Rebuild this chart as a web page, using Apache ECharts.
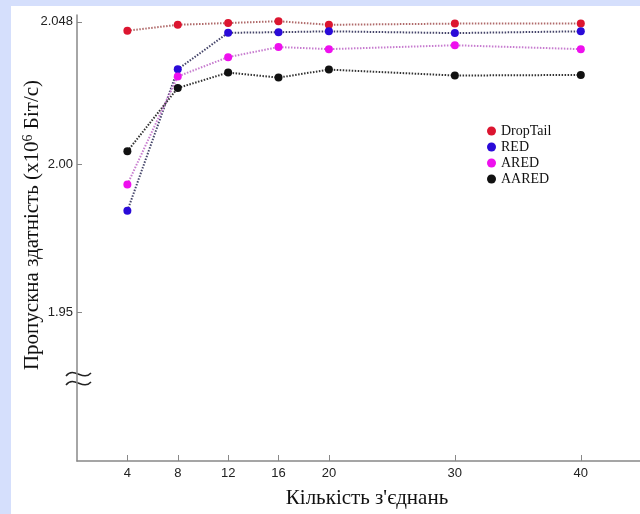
<!DOCTYPE html>
<html>
<head>
<meta charset="utf-8">
<script src="https://cdn.jsdelivr.net/npm/echarts@6/dist/echarts.min.js"></script>
<style>
  html, body { margin: 0; padding: 0; }
  #wrap { position: relative; width: 640px; height: 514px; background: #d5dffc; overflow: hidden; }
  #panel { position: absolute; left: 11px; top: 6px; right: 0; bottom: 0; background: #fff; }
  #container { position: absolute; left: 0; top: 0; width: 640px; height: 514px; }
</style>
</head>
<body>
<div id="wrap">
  <div id="panel"></div>
  <div id="container"></div>
</div>
<script>
// кількість з'єднань
var connections = [4, 8, 12, 16, 20, 30, 40];
// пропускна здатність, x10^6 біт/с
var dropTail = [2.0450, 2.0470, 2.0476, 2.0482, 2.0470, 2.0474, 2.0474];
var red = [1.9843, 2.0320, 2.0443, 2.0445, 2.0448, 2.0442, 2.0448];
var ared = [1.9932, 2.0296, 2.0361, 2.0395, 2.0388, 2.0401, 2.0388];
var aared = [2.0044, 2.0257, 2.0309, 2.0292, 2.0319, 2.0299, 2.0301];

var seriesNames = ['DropTail', 'RED', 'ARED', 'AARED'];
var yTickValues = [1.95, 2.00, 2.048];
var yTickLabels = ['1.95', '2.00', '2.048'];

var dotColors = ['#dc1530', '#2a0ad8', '#ee10ee', '#111111'];
var lineColors = ['#b06a6a', '#45456a', '#c77ccf', '#333333'];

function pairs(ys) {
    var res = [];
    for (var i = 0; i < connections.length; i++) {
        res.push([connections[i], ys[i]]);
    }
    return res;
}

var allData = [dropTail, red, ared, aared];
var series = [];
for (var k = 0; k < allData.length; k++) {
    series.push({
        name: seriesNames[k],
        type: 'line',
        data: pairs(allData[k]),
        symbol: 'circle',
        symbolSize: 8,
        itemStyle: { color: dotColors[k] },
        lineStyle: { color: lineColors[k], width: 2, type: [1.5, 1.5] },
        emphasis: { disabled: true },
        z: 2 + k
    });
}

var serif = 'Liberation Serif';
var sans = 'Liberation Sans';

var myChart = echarts.init(document.getElementById('container'));
var option = {
    backgroundColor: 'transparent',
    animation: false,
    grid: { left: 77, top: 15, right: 0, bottom: 53, containLabel: false },
    legend: {
        data: seriesNames,
        orient: 'vertical',
        left: 482,
        top: 119,
        icon: 'circle',
        itemWidth: 9,
        itemHeight: 9,
        itemGap: 2,
        textStyle: { fontFamily: serif, fontSize: 14, color: '#111' }
    },
    xAxis: {
        type: 'value',
        min: 0,
        max: 44.7,
        axisLine: { lineStyle: { color: '#888', width: 1.5 } },
        axisTick: { inside: true, length: 6, customValues: connections, lineStyle: { color: '#888' } },
        axisLabel: {
            customValues: connections,
            margin: 6,
            fontFamily: sans,
            fontSize: 13,
            color: '#222'
        },
        splitLine: { show: false }
    },
    yAxis: {
        type: 'value',
        min: 1.90,
        max: 2.0503,
        axisLine: { show: true, lineStyle: { color: '#888', width: 1.5 } },
        axisTick: { show: true, inside: true, length: 5, customValues: yTickValues, lineStyle: { color: '#888' } },
        axisLabel: {
            customValues: yTickValues,
            margin: 4,
            fontFamily: sans,
            fontSize: 13,
            color: '#222',
            formatter: function (value) {
                for (var i = 0; i < yTickValues.length; i++) {
                    if (Math.abs(yTickValues[i] - value) < 1e-6) return yTickLabels[i];
                }
                return '';
            }
        },
        splitLine: { show: false }
    },
    graphic: [
        {
            type: 'text',
            x: 32,
            y: 225,
            rotation: Math.PI / 2,
            style: {
                text: 'Пропускна здатність (x10{sup|6} Біт/с)',
                fontFamily: serif,
                fontSize: 21,
                fill: '#111',
                align: 'center',
                verticalAlign: 'middle',
                rich: {
                    sup: { fontFamily: serif, fontSize: 14, fill: '#111', verticalAlign: 'top' }
                }
            }
        },
        {
            type: 'text',
            x: 367,
            y: 498,
            style: {
                text: "Кількість з'єднань",
                fontFamily: serif,
                fontSize: 21,
                fill: '#111',
                align: 'center',
                verticalAlign: 'middle'
            }
        },
        {
            type: 'bezierCurve',
            shape: { x1: 66, y1: 376, cpx1: 74, cpy1: 366, cpx2: 83, cpy2: 382, x2: 91, y2: 373 },
            style: { stroke: '#222', lineWidth: 1.5, fill: null }
        },
        {
            type: 'bezierCurve',
            shape: { x1: 66, y1: 385, cpx1: 74, cpy1: 375, cpx2: 83, cpy2: 391, x2: 91, y2: 382 },
            style: { stroke: '#222', lineWidth: 1.5, fill: null }
        }
    ],
    series: series
};
myChart.setOption(option);
</script>
</body>
</html>
